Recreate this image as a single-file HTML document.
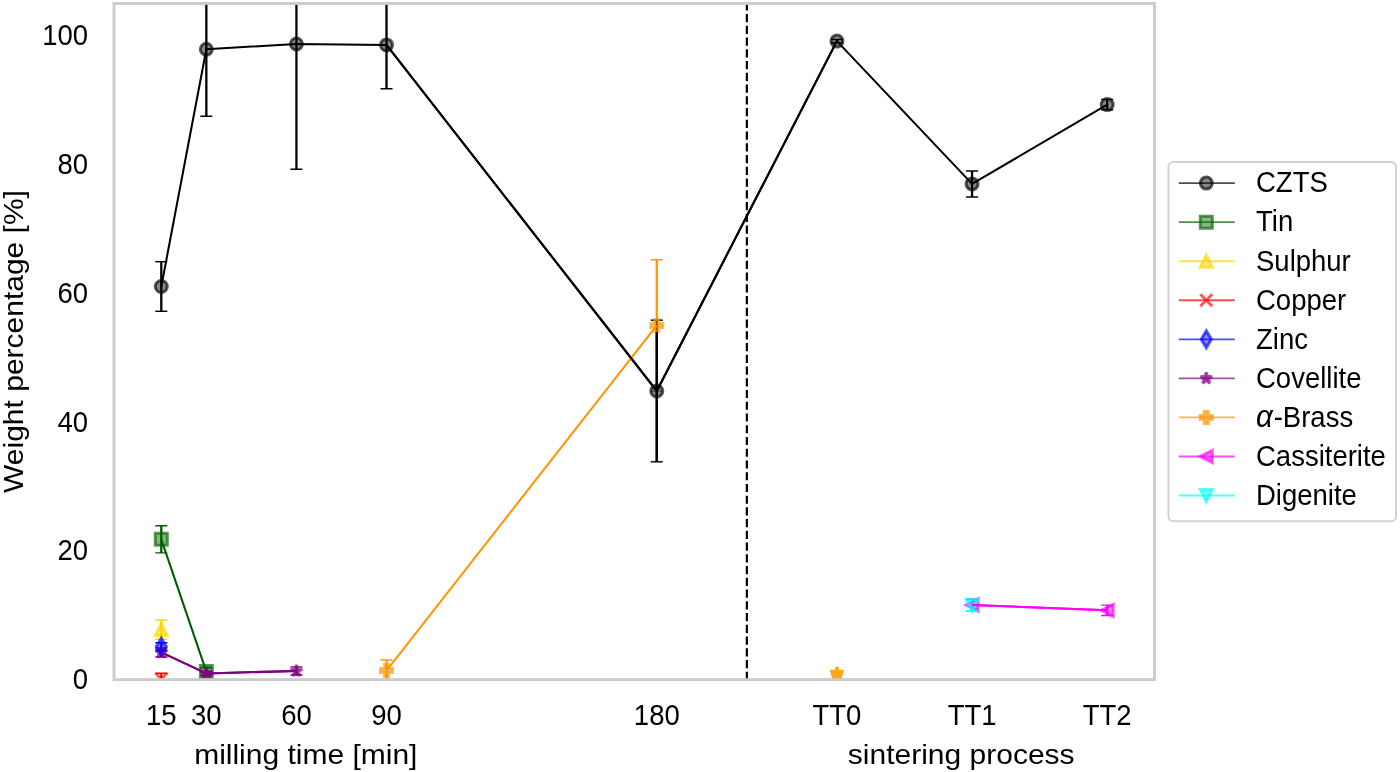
<!DOCTYPE html>
<html lang="en">
<head>
<meta charset="utf-8">
<title>Weight percentage vs milling time / sintering process</title>
<style>html,body{margin:0;padding:0;background:#fff;}body{width:1400px;height:772px;overflow:hidden;}svg{display:block;}</style>
</head>
<body>
<svg width="1400" height="772" viewBox="0 0 1400 772" font-family="'Liberation Sans', sans-serif" fill="#000000">
<rect x="0" y="0" width="1400" height="772" fill="#ffffff"/>
<defs><clipPath id="ax"><rect x="114" y="3.5" width="1040.5" height="676.1"/></clipPath></defs>
<g clip-path="url(#ax)">
<line x1="746.86" y1="680" x2="746.86" y2="3.5" stroke="#000" stroke-width="2.2" stroke-dasharray="8.2 3.545"/>
<line x1="386.51" y1="660.03" x2="386.51" y2="681.02" stroke="#ff9500" stroke-width="2.3"/>
<line x1="656.77" y1="259.77" x2="656.77" y2="326.45" stroke="#ff9500" stroke-width="2.3"/>
<line x1="161.3" y1="261.71" x2="161.3" y2="311.29" stroke="#000000" stroke-width="2.3"/>
<line x1="206.34" y1="-17.75" x2="206.34" y2="116.18" stroke="#000000" stroke-width="2.3"/>
<line x1="296.43" y1="-81.43" x2="296.43" y2="169.31" stroke="#000000" stroke-width="2.3"/>
<line x1="386.51" y1="1.12" x2="386.51" y2="88.69" stroke="#000000" stroke-width="2.3"/>
<line x1="656.77" y1="320.17" x2="656.77" y2="461.83" stroke="#000000" stroke-width="2.3"/>
<line x1="836.94" y1="39.49" x2="836.94" y2="42.71" stroke="#000000" stroke-width="2.3"/>
<line x1="972.07" y1="170.92" x2="972.07" y2="196.93" stroke="#000000" stroke-width="2.3"/>
<line x1="1107.2" y1="99.38" x2="1107.2" y2="109.81" stroke="#000000" stroke-width="2.3"/>
<line x1="161.3" y1="525.84" x2="161.3" y2="552.88" stroke="#005a00" stroke-width="2.3"/>
<line x1="206.34" y1="668.07" x2="206.34" y2="675.16" stroke="#005a00" stroke-width="2.3"/>
<line x1="161.3" y1="619.91" x2="161.3" y2="639.23" stroke="#ffd400" stroke-width="2.3"/>
<line x1="161.3" y1="673.16" x2="161.3" y2="684.75" stroke="#ff0000" stroke-width="2.3"/>
<line x1="161.3" y1="642.83" x2="161.3" y2="650.56" stroke="#0000ff" stroke-width="2.3"/>
<line x1="161.3" y1="647.92" x2="161.3" y2="656.93" stroke="#800080" stroke-width="2.3"/>
<line x1="206.34" y1="671.49" x2="206.34" y2="675.35" stroke="#800080" stroke-width="2.3"/>
<line x1="296.43" y1="666.85" x2="296.43" y2="675.09" stroke="#800080" stroke-width="2.3"/>
<line x1="972.07" y1="599.31" x2="972.07" y2="610.64" stroke="#ff00ff" stroke-width="2.3"/>
<line x1="1107.2" y1="605.1" x2="1107.2" y2="615.53" stroke="#ff00ff" stroke-width="2.3"/>
<line x1="972.07" y1="599.63" x2="972.07" y2="610.83" stroke="#00ffff" stroke-width="2.3"/>
<line x1="650.77" y1="391.13" x2="662.77" y2="391.13" stroke="#ff9500" stroke-width="1.45"/>
<polyline points="161.3,286.5 206.34,49.22 296.43,43.94 386.51,44.9 656.77,391 836.94,41.1 972.07,183.92 1107.2,104.59" fill="none" stroke="#000000" stroke-width="2.05" stroke-linejoin="round"/>
<circle cx="161.3" cy="286.5" r="6" fill="#000000" fill-opacity="0.47" stroke="#000000" stroke-opacity="0.65" stroke-width="3" stroke-linejoin="miter" stroke-miterlimit="2.6"/>
<circle cx="206.34" cy="49.22" r="6" fill="#000000" fill-opacity="0.47" stroke="#000000" stroke-opacity="0.65" stroke-width="3" stroke-linejoin="miter" stroke-miterlimit="2.6"/>
<circle cx="296.43" cy="43.94" r="6" fill="#000000" fill-opacity="0.47" stroke="#000000" stroke-opacity="0.65" stroke-width="3" stroke-linejoin="miter" stroke-miterlimit="2.6"/>
<circle cx="386.51" cy="44.9" r="6" fill="#000000" fill-opacity="0.47" stroke="#000000" stroke-opacity="0.65" stroke-width="3" stroke-linejoin="miter" stroke-miterlimit="2.6"/>
<circle cx="656.77" cy="391" r="6" fill="#000000" fill-opacity="0.47" stroke="#000000" stroke-opacity="0.65" stroke-width="3" stroke-linejoin="miter" stroke-miterlimit="2.6"/>
<circle cx="836.94" cy="41.1" r="6" fill="#000000" fill-opacity="0.47" stroke="#000000" stroke-opacity="0.65" stroke-width="3" stroke-linejoin="miter" stroke-miterlimit="2.6"/>
<circle cx="972.07" cy="183.92" r="6" fill="#000000" fill-opacity="0.47" stroke="#000000" stroke-opacity="0.65" stroke-width="3" stroke-linejoin="miter" stroke-miterlimit="2.6"/>
<circle cx="1107.2" cy="104.59" r="6" fill="#000000" fill-opacity="0.47" stroke="#000000" stroke-opacity="0.65" stroke-width="3" stroke-linejoin="miter" stroke-miterlimit="2.6"/>
<line x1="155.3" y1="261.71" x2="167.3" y2="261.71" stroke="#000000" stroke-width="1.45"/>
<line x1="155.3" y1="311.29" x2="167.3" y2="311.29" stroke="#000000" stroke-width="1.45"/>
<line x1="200.34" y1="-17.75" x2="212.34" y2="-17.75" stroke="#000000" stroke-width="1.45"/>
<line x1="200.34" y1="116.18" x2="212.34" y2="116.18" stroke="#000000" stroke-width="1.45"/>
<line x1="290.43" y1="-81.43" x2="302.43" y2="-81.43" stroke="#000000" stroke-width="1.45"/>
<line x1="290.43" y1="169.31" x2="302.43" y2="169.31" stroke="#000000" stroke-width="1.45"/>
<line x1="380.51" y1="1.12" x2="392.51" y2="1.12" stroke="#000000" stroke-width="1.45"/>
<line x1="380.51" y1="88.69" x2="392.51" y2="88.69" stroke="#000000" stroke-width="1.45"/>
<line x1="650.77" y1="320.17" x2="662.77" y2="320.17" stroke="#000000" stroke-width="1.45"/>
<line x1="650.77" y1="461.83" x2="662.77" y2="461.83" stroke="#000000" stroke-width="1.45"/>
<line x1="830.94" y1="39.49" x2="842.94" y2="39.49" stroke="#000000" stroke-width="1.45"/>
<line x1="830.94" y1="42.71" x2="842.94" y2="42.71" stroke="#000000" stroke-width="1.45"/>
<line x1="966.07" y1="170.92" x2="978.07" y2="170.92" stroke="#000000" stroke-width="1.45"/>
<line x1="966.07" y1="196.93" x2="978.07" y2="196.93" stroke="#000000" stroke-width="1.45"/>
<line x1="1101.2" y1="99.38" x2="1113.2" y2="99.38" stroke="#000000" stroke-width="1.45"/>
<line x1="1101.2" y1="109.81" x2="1113.2" y2="109.81" stroke="#000000" stroke-width="1.45"/>
<polyline points="161.3,539.36 206.34,671.62" fill="none" stroke="#005a00" stroke-width="2.05" stroke-linejoin="round"/>
<polygon points="155.3,533.36 167.3,533.36 167.3,545.36 155.3,545.36" fill="#006400" fill-opacity="0.47" stroke="#006400" stroke-opacity="0.65" stroke-width="3" stroke-linejoin="miter" stroke-miterlimit="2.6"/>
<polygon points="200.34,665.62 212.34,665.62 212.34,677.62 200.34,677.62" fill="#006400" fill-opacity="0.47" stroke="#006400" stroke-opacity="0.65" stroke-width="3" stroke-linejoin="miter" stroke-miterlimit="2.6"/>
<line x1="155.3" y1="525.84" x2="167.3" y2="525.84" stroke="#005a00" stroke-width="1.45"/>
<line x1="155.3" y1="552.88" x2="167.3" y2="552.88" stroke="#005a00" stroke-width="1.45"/>
<line x1="200.34" y1="668.07" x2="212.34" y2="668.07" stroke="#005a00" stroke-width="1.45"/>
<line x1="200.34" y1="675.16" x2="212.34" y2="675.16" stroke="#005a00" stroke-width="1.45"/>
<polygon points="161.3,623.57 155.3,635.57 167.3,635.57" fill="#ffd400" fill-opacity="0.47" stroke="#ffd400" stroke-opacity="0.65" stroke-width="3" stroke-linejoin="miter" stroke-miterlimit="2.6"/>
<line x1="155.3" y1="619.91" x2="167.3" y2="619.91" stroke="#ffd400" stroke-width="1.45"/>
<line x1="155.3" y1="639.23" x2="167.3" y2="639.23" stroke="#ffd400" stroke-width="1.45"/>
<path d="M155.3 672.96L167.3 684.96M155.3 684.96L167.3 672.96" fill="none" stroke="#ff0000" stroke-opacity="0.65" stroke-width="3" stroke-linecap="butt"/>
<line x1="155.3" y1="673.16" x2="167.3" y2="673.16" stroke="#ff0000" stroke-width="1.45"/>
<line x1="155.3" y1="684.75" x2="167.3" y2="684.75" stroke="#ff0000" stroke-width="1.45"/>
<polyline points="161.3,652.43 206.34,673.42 296.43,670.97" fill="none" stroke="#800080" stroke-width="2.05" stroke-linejoin="round"/>
<polygon points="161.3,646.43 159.95,650.57 155.59,650.57 159.12,653.14 157.77,657.28 161.3,654.72 164.82,657.28 163.48,653.14 167,650.57 162.64,650.57" fill="#800080" fill-opacity="0.47" stroke="#800080" stroke-opacity="0.65" stroke-width="3" stroke-linejoin="miter" stroke-miterlimit="2.6"/>
<polygon points="206.34,667.42 204.99,671.56 200.63,671.56 204.16,674.13 202.81,678.27 206.34,675.71 209.87,678.27 208.52,674.13 212.05,671.56 207.69,671.56" fill="#800080" fill-opacity="0.47" stroke="#800080" stroke-opacity="0.65" stroke-width="3" stroke-linejoin="miter" stroke-miterlimit="2.6"/>
<polygon points="296.43,664.97 295.08,669.12 290.72,669.12 294.25,671.68 292.9,675.83 296.43,673.26 299.95,675.83 298.6,671.68 302.13,669.12 297.77,669.12" fill="#800080" fill-opacity="0.47" stroke="#800080" stroke-opacity="0.65" stroke-width="3" stroke-linejoin="miter" stroke-miterlimit="2.6"/>
<line x1="155.3" y1="647.92" x2="167.3" y2="647.92" stroke="#800080" stroke-width="1.45"/>
<line x1="155.3" y1="656.93" x2="167.3" y2="656.93" stroke="#800080" stroke-width="1.45"/>
<line x1="200.34" y1="671.49" x2="212.34" y2="671.49" stroke="#800080" stroke-width="1.45"/>
<line x1="200.34" y1="675.35" x2="212.34" y2="675.35" stroke="#800080" stroke-width="1.45"/>
<line x1="290.43" y1="666.85" x2="302.43" y2="666.85" stroke="#800080" stroke-width="1.45"/>
<line x1="290.43" y1="675.09" x2="302.43" y2="675.09" stroke="#800080" stroke-width="1.45"/>
<polygon points="161.3,638.21 166.39,646.7 161.3,655.18 156.2,646.7" fill="#0000ff" fill-opacity="0.47" stroke="#0000ff" stroke-opacity="0.65" stroke-width="3" stroke-linejoin="miter" stroke-miterlimit="2.6"/>
<line x1="155.3" y1="642.83" x2="167.3" y2="642.83" stroke="#0000ff" stroke-width="1.45"/>
<line x1="155.3" y1="650.56" x2="167.3" y2="650.56" stroke="#0000ff" stroke-width="1.45"/>
<polyline points="386.51,670.52 656.77,325.45" fill="none" stroke="#ff9500" stroke-width="2.05" stroke-linejoin="round"/>
<polygon points="384.51,664.52 388.51,664.52 388.51,668.52 392.51,668.52 392.51,672.52 388.51,672.52 388.51,676.52 384.51,676.52 384.51,672.52 380.51,672.52 380.51,668.52 384.51,668.52" fill="#ff9500" fill-opacity="0.47" stroke="#ff9500" stroke-opacity="0.65" stroke-width="3" stroke-linejoin="miter" stroke-miterlimit="2.6"/>
<polygon points="654.77,319.45 658.77,319.45 658.77,323.45 662.77,323.45 662.77,327.45 658.77,327.45 658.77,331.45 654.77,331.45 654.77,327.45 650.77,327.45 650.77,323.45 654.77,323.45" fill="#ff9500" fill-opacity="0.47" stroke="#ff9500" stroke-opacity="0.65" stroke-width="3" stroke-linejoin="miter" stroke-miterlimit="2.6"/>
<line x1="380.51" y1="660.03" x2="392.51" y2="660.03" stroke="#ff9500" stroke-width="1.45"/>
<line x1="380.51" y1="681.02" x2="392.51" y2="681.02" stroke="#ff9500" stroke-width="1.45"/>
<line x1="650.77" y1="259.77" x2="662.77" y2="259.77" stroke="#ff9500" stroke-width="1.45"/>
<polyline points="972.07,604.97 1107.2,610.32" fill="none" stroke="#ff00ff" stroke-width="2.05" stroke-linejoin="round"/>
<polygon points="966.07,604.97 978.07,598.97 978.07,610.97" fill="#ff00ff" fill-opacity="0.47" stroke="#ff00ff" stroke-opacity="0.65" stroke-width="3" stroke-linejoin="miter" stroke-miterlimit="2.6"/>
<polygon points="1101.2,610.32 1113.2,604.32 1113.2,616.32" fill="#ff00ff" fill-opacity="0.47" stroke="#ff00ff" stroke-opacity="0.65" stroke-width="3" stroke-linejoin="miter" stroke-miterlimit="2.6"/>
<line x1="966.07" y1="599.31" x2="978.07" y2="599.31" stroke="#ff00ff" stroke-width="1.45"/>
<line x1="966.07" y1="610.64" x2="978.07" y2="610.64" stroke="#ff00ff" stroke-width="1.45"/>
<line x1="1101.2" y1="605.1" x2="1113.2" y2="605.1" stroke="#ff00ff" stroke-width="1.45"/>
<line x1="1101.2" y1="615.53" x2="1113.2" y2="615.53" stroke="#ff00ff" stroke-width="1.45"/>
<polygon points="972.07,611.23 966.07,599.23 978.07,599.23" fill="#00ffff" fill-opacity="0.47" stroke="#00ffff" stroke-opacity="0.65" stroke-width="3" stroke-linejoin="miter" stroke-miterlimit="2.6"/>
<line x1="966.07" y1="610.83" x2="978.07" y2="610.83" stroke="#00ffff" stroke-width="1.45"/>
<polyline points="161.3,652.43 206.34,673.42 296.43,670.97" fill="none" stroke="#800080" stroke-width="2.05" stroke-linejoin="round"/>
<polyline points="972.07,604.97 1107.2,610.32" fill="none" stroke="#ff00ff" stroke-width="2.05" stroke-linejoin="round"/>
<polygon points="834.94,669.8 834.94,667.6 835.74,666.8 838.14,666.8 838.94,667.6 838.94,669.8 843.84,669.8 843.84,672.6 843.14,672.6 843.14,675.6 842.14,675.6 842.14,680 831.74,680 831.74,675.6 830.74,675.6 830.74,672.6 830.04,672.6 830.04,669.8" fill="#ff9f0a" fill-opacity="0.92"/>
<polyline points="386.51,44.9 656.77,391 836.94,40.85" fill="none" stroke="#000" stroke-width="2.05"/>
<line x1="656.77" y1="332.17" x2="656.77" y2="461.83" stroke="#000" stroke-width="2.3"/>
</g>
<rect x="114" y="3.5" width="1040.5" height="676.1" fill="none" stroke="#cbcbcb" stroke-width="2.85"/>
<text transform="translate(88 689.2) scale(1 1.06)" font-size="27.5" text-anchor="end" >0</text>
<text transform="translate(88 560.42) scale(1 1.06)" font-size="27.5" text-anchor="end" >20</text>
<text transform="translate(88 431.64) scale(1 1.06)" font-size="27.5" text-anchor="end" >40</text>
<text transform="translate(88 302.86) scale(1 1.06)" font-size="27.5" text-anchor="end" >60</text>
<text transform="translate(88 174.08) scale(1 1.06)" font-size="27.5" text-anchor="end" >80</text>
<text transform="translate(88 45.3) scale(1 1.06)" font-size="27.5" text-anchor="end" >100</text>
<text transform="translate(161.3 724.7) scale(1 1.06)" font-size="27.5" text-anchor="middle" >15</text>
<text transform="translate(206.34 724.7) scale(1 1.06)" font-size="27.5" text-anchor="middle" >30</text>
<text transform="translate(296.43 724.7) scale(1 1.06)" font-size="27.5" text-anchor="middle" >60</text>
<text transform="translate(386.51 724.7) scale(1 1.06)" font-size="27.5" text-anchor="middle" >90</text>
<text transform="translate(656.77 724.7) scale(1 1.06)" font-size="27.5" text-anchor="middle" >180</text>
<text transform="translate(836.94 724.7) scale(1 1.06)" font-size="27.5" text-anchor="middle" >TT0</text>
<text transform="translate(972.07 724.7) scale(1 1.06)" font-size="27.5" text-anchor="middle" >TT1</text>
<text transform="translate(1107.2 724.7) scale(1 1.06)" font-size="27.5" text-anchor="middle" >TT2</text>
<text transform="translate(305.8 763.7) scale(1 0.95)" font-size="30" text-anchor="middle" >milling time [min]</text>
<text transform="translate(961.2 763.9) scale(1 0.95)" font-size="30" text-anchor="middle" >sintering process</text>
<text transform="translate(23.3 341.5) rotate(-90) scale(1 0.95)" font-size="30" text-anchor="middle" >Weight percentage [%]</text>
<rect x="1168.5" y="162" width="227.5" height="359.3" rx="5" ry="5" fill="#fff" stroke="#d2d2d2" stroke-width="2"/>
<line x1="1178.8" y1="183.1" x2="1234.8" y2="183.1" stroke="#000000" stroke-opacity="0.7" stroke-width="1.85"/>
<circle cx="1206.3" cy="183.1" r="6" fill="#000000" fill-opacity="0.47" stroke="#000000" stroke-opacity="0.65" stroke-width="3" stroke-linejoin="miter" stroke-miterlimit="2.6"/>
<text transform="translate(1256 192.4) scale(1 1.06)" font-size="27.5" text-anchor="start" >CZTS</text>
<line x1="1178.8" y1="222.15" x2="1234.8" y2="222.15" stroke="#006400" stroke-opacity="0.7" stroke-width="1.85"/>
<polygon points="1200.3,216.15 1212.3,216.15 1212.3,228.15 1200.3,228.15" fill="#006400" fill-opacity="0.47" stroke="#006400" stroke-opacity="0.65" stroke-width="3" stroke-linejoin="miter" stroke-miterlimit="2.6"/>
<text transform="translate(1256 231.45) scale(1 1.06)" font-size="27.5" text-anchor="start" >Tin</text>
<line x1="1178.8" y1="261.2" x2="1234.8" y2="261.2" stroke="#ffd400" stroke-opacity="0.7" stroke-width="1.85"/>
<polygon points="1206.3,255.2 1200.3,267.2 1212.3,267.2" fill="#ffd400" fill-opacity="0.47" stroke="#ffd400" stroke-opacity="0.65" stroke-width="3" stroke-linejoin="miter" stroke-miterlimit="2.6"/>
<text transform="translate(1256 270.5) scale(1 1.06)" font-size="27.5" text-anchor="start" >Sulphur</text>
<line x1="1178.8" y1="300.25" x2="1234.8" y2="300.25" stroke="#ff0000" stroke-opacity="0.7" stroke-width="1.85"/>
<path d="M1200.3 294.25L1212.3 306.25M1200.3 306.25L1212.3 294.25" fill="none" stroke="#ff0000" stroke-opacity="0.65" stroke-width="3" stroke-linecap="butt"/>
<text transform="translate(1256 309.55) scale(1 1.06)" font-size="27.5" text-anchor="start" >Copper</text>
<line x1="1178.8" y1="339.3" x2="1234.8" y2="339.3" stroke="#0000ff" stroke-opacity="0.7" stroke-width="1.85"/>
<polygon points="1206.3,330.81 1211.39,339.3 1206.3,347.79 1201.21,339.3" fill="#0000ff" fill-opacity="0.47" stroke="#0000ff" stroke-opacity="0.65" stroke-width="3" stroke-linejoin="miter" stroke-miterlimit="2.6"/>
<text transform="translate(1256 348.6) scale(1 1.06)" font-size="27.5" text-anchor="start" >Zinc</text>
<line x1="1178.8" y1="378.35" x2="1234.8" y2="378.35" stroke="#800080" stroke-opacity="0.7" stroke-width="1.85"/>
<polygon points="1206.3,372.35 1204.95,376.5 1200.59,376.5 1204.12,379.06 1202.77,383.2 1206.3,380.64 1209.83,383.2 1208.48,379.06 1212.01,376.5 1207.65,376.5" fill="#800080" fill-opacity="0.47" stroke="#800080" stroke-opacity="0.65" stroke-width="3" stroke-linejoin="miter" stroke-miterlimit="2.6"/>
<text transform="translate(1256 387.65) scale(1 1.06)" font-size="27.5" text-anchor="start" >Covellite</text>
<line x1="1178.8" y1="417.4" x2="1234.8" y2="417.4" stroke="#ff9500" stroke-opacity="0.7" stroke-width="1.85"/>
<polygon points="1204.3,411.4 1208.3,411.4 1208.3,415.4 1212.3,415.4 1212.3,419.4 1208.3,419.4 1208.3,423.4 1204.3,423.4 1204.3,419.4 1200.3,419.4 1200.3,415.4 1204.3,415.4" fill="#ff9500" fill-opacity="0.47" stroke="#ff9500" stroke-opacity="0.65" stroke-width="3" stroke-linejoin="miter" stroke-miterlimit="2.6"/>
<text transform="translate(1256 426.7) scale(1 1.06)" font-size="27.5" text-anchor="start" ><tspan font-style="italic" font-size="29.5">α</tspan><tspan dx="0.9">-Brass</tspan></text>
<line x1="1178.8" y1="456.45" x2="1234.8" y2="456.45" stroke="#ff00ff" stroke-opacity="0.7" stroke-width="1.85"/>
<polygon points="1200.3,456.45 1212.3,450.45 1212.3,462.45" fill="#ff00ff" fill-opacity="0.47" stroke="#ff00ff" stroke-opacity="0.65" stroke-width="3" stroke-linejoin="miter" stroke-miterlimit="2.6"/>
<text transform="translate(1256 465.75) scale(1 1.06)" font-size="27.5" text-anchor="start" >Cassiterite</text>
<line x1="1178.8" y1="495.5" x2="1234.8" y2="495.5" stroke="#00ffff" stroke-opacity="0.7" stroke-width="1.85"/>
<polygon points="1206.3,501.5 1200.3,489.5 1212.3,489.5" fill="#00ffff" fill-opacity="0.47" stroke="#00ffff" stroke-opacity="0.65" stroke-width="3" stroke-linejoin="miter" stroke-miterlimit="2.6"/>
<text transform="translate(1256 504.8) scale(1 1.06)" font-size="27.5" text-anchor="start" >Digenite</text>
</svg>
</body>
</html>
